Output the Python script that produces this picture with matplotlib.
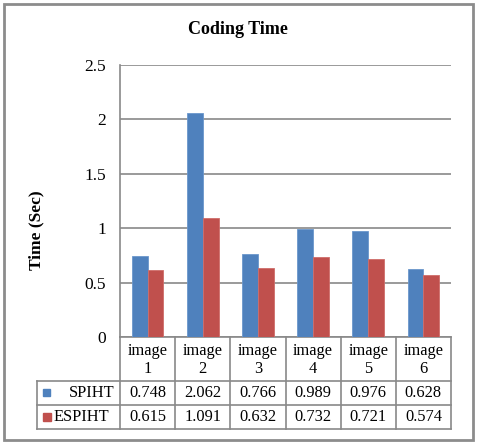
import matplotlib
matplotlib.use("Agg")
import matplotlib.pyplot as plt
import matplotlib.transforms as mtransforms
from matplotlib.patches import Rectangle
import numpy as np

plt.rcParams['font.family'] = ['Liberation Serif', 'DejaVu Serif']

categories = ['image\n1', 'image\n2', 'image\n3', 'image\n4', 'image\n5', 'image\n6']
spiht = [0.748, 2.062, 0.766, 0.989, 0.976, 0.628]
espiht = [0.615, 1.091, 0.632, 0.732, 0.721, 0.574]
series_names = ['SPIHT', 'ESPIHT']
blue = '#4F81BD'
red = '#C0504D'
grey = '#898989'

W, H = 483, 444
fig = plt.figure(figsize=(W / 100, H / 100), dpi=100)

# plot area in pixel coords
left, right, top, bottom = 120, 451, 65, 337
ax = fig.add_axes([left / W, (H - bottom) / H, (right - left) / W, (bottom - top) / H])

x = np.arange(len(categories))
w = 1 / 3.5
ax.bar(x - w / 2, spiht, w, color=blue, edgecolor='#6b97cc', linewidth=0.6, zorder=3)
ax.bar(x + w / 2, espiht, w, color=red, edgecolor='#cf6d6a', linewidth=0.6, zorder=3)

ax.set_xlim(-0.5, len(categories) - 0.5)
ax.set_ylim(0, 2.5)
yt = [0, 0.5, 1, 1.5, 2, 2.5]
ax.set_yticks(yt)
ax.set_yticklabels(['0', '0.5', '1', '1.5', '2', '2.5'], fontsize=12.5)
ax.tick_params(axis='y', length=0, pad=10)
ax.set_xticks([])
ax.grid(axis='y', color=grey, linewidth=1.2, zorder=0)
for s in ['top', 'right']:
    ax.spines[s].set_visible(False)
for s in ['left', 'bottom']:
    ax.spines[s].set_color(grey)
    ax.spines[s].set_linewidth(1.2)

# overlay for title, frame and data table (pixel coords)
ov = fig.add_axes([0, 0, 1, 1], zorder=5)
ov.set_xlim(0, W)
ov.set_ylim(H, 0)
ov.axis('off')
ov.patch.set_visible(False)

ov.add_patch(Rectangle((4, 4), 469, 436, fill=False, edgecolor='#8c8c8c', linewidth=2))
ov.text(238, 30, 'Coding Time', ha='center', va='center', fontsize=13, fontweight='bold')
ov.text(36, 230, 'Time (Sec)', ha='center', va='center', rotation=90, fontsize=12.5, fontweight='bold')

bt = mtransforms.blended_transform_factory(ax.transData, ov.transData)
r1, r2, r3 = 381, 405, 429
lc = dict(color=grey, linewidth=1.2)

# table grid
for yy in [r1, r2, r3]:
    ov.plot([37, right], [yy, yy], **lc)
ov.plot([37, 37], [r1, r3], **lc)
ov.plot([left, left], [bottom, r3], **lc)
for i in range(len(categories)):
    ov.plot([i + 0.5, i + 0.5], [bottom, r3], transform=bt, **lc)

fs = 11.8
for i, c in enumerate(categories):
    ov.text(i, 360, c, transform=bt, ha='center', va='center', fontsize=fs, linespacing=1.1)
    ov.text(i, 393, f'{spiht[i]:.3f}', transform=bt, ha='center', va='center', fontsize=fs)
    ov.text(i, 417, f'{espiht[i]:.3f}', transform=bt, ha='center', va='center', fontsize=fs)

ov.add_patch(Rectangle((43, 389), 7, 7, color=blue))
ov.add_patch(Rectangle((43, 413), 8, 8, color=red))
ov.text(114, 393, series_names[0], ha='right', va='center', fontsize=fs)
ov.text(53, 417, series_names[1], ha='left', va='center', fontsize=fs)

fig.savefig('out.png', dpi=100)
